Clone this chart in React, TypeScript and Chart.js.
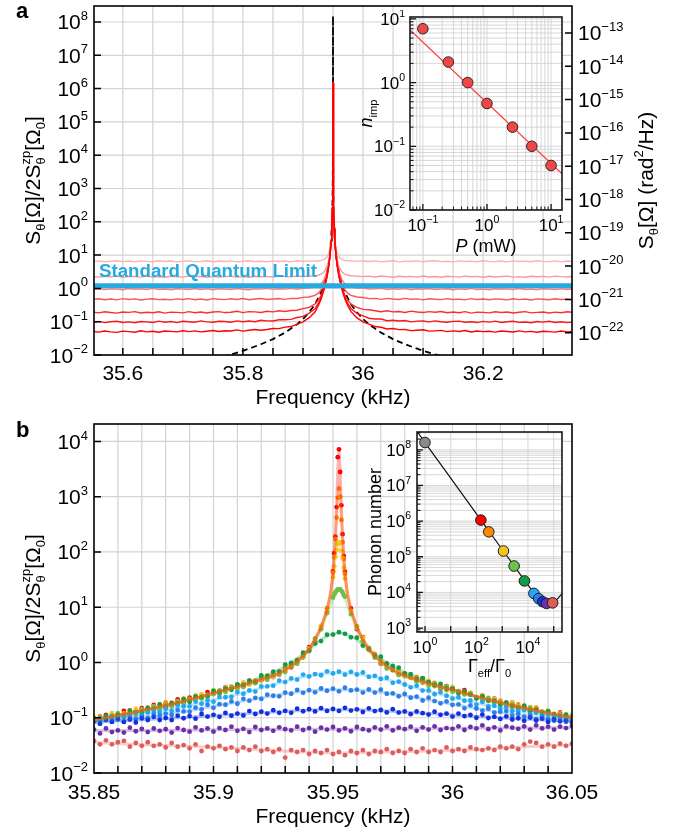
import React, { useEffect, useRef } from "react";
import { Chart, registerables } from "chart.js";

Chart.register(...registerables);

/* ===================== Panel a data ===================== */
const A_FREQ = [35.55,35.56,35.57,35.58,35.59,35.6,35.61,35.62,35.63,35.64,35.65,35.66,35.67,35.68,35.69,35.7,35.71,35.72,35.73,35.74,35.75,35.76,35.77,35.78,35.79,35.8,35.81,35.82,35.83,35.84,35.85,35.86,35.87,35.88,35.89,35.9,
  35.91,35.92,35.925,35.93,35.935,35.94,35.943,35.945,35.947,35.948,35.949,35.9495,
  35.95,
  35.9505,35.951,35.952,35.953,35.955,35.957,35.96,35.965,35.97,35.975,35.98,35.99,
  36,36.01,36.02,36.03,36.04,36.05,36.06,36.07,36.08,36.09,36.1,36.11,36.12,36.13,36.14,36.15,36.16,36.17,36.18,36.19,36.2,36.21,36.22,36.23,36.24,36.25,36.26,36.27,36.28,36.29,36.3,36.31,36.32,36.33,36.34,36.35];

const A_TRACE_1 = [6.44,6.7,6.31,6.57,6.76,6.37,6.63,6.24,6.7,6.5,6.31,6.76,6.44,6.63,6.24,6.57,6.7,6.37,6.5,6.76,6.31,6.63,6.44,6.7,6.24,6.57,6.76,6.37,6.5,6.31,6.7,6.44,6.63,6.26,6.79,6.55,
  6.58,6.65,6.74,6.92,7.35,8.7,11.3,16,33.5,68.5,266,1100,
  1.5e6,
  1100,266,68.5,33.5,16,11.3,8.7,7.35,6.92,6.74,6.65,6.58,
  6.68,6.4,6.72,6.32,6.51,6.77,6.24,6.57,6.44,6.7,6.31,6.63,6.76,6.37,6.5,6.24,6.7,6.44,6.57,6.31,6.76,6.5,6.37,6.63,6.24,6.7,6.44,6.57,6.31,6.76,6.5,6.37,6.7,6.24,6.63,6.44];
const A_TRACE_2 = [2.27,2.18,2.32,2.23,2.34,2.16,2.25,2.3,2.18,2.36,2.2,2.27,2.16,2.32,2.25,2.18,2.34,2.23,2.3,2.16,2.32,2.2,2.25,2.34,2.18,2.27,2.16,2.32,2.23,2.3,2.19,2.35,2.27,2.22,2.35,2.28,
  2.33,2.4,2.49,2.67,3.1,4.45,7.05,11.75,29,64,262,1100,
  1.5e6,
  1100,262,64,29,11.75,7.05,4.45,3.1,2.67,2.49,2.4,2.33,
  2.26,2.33,2.2,2.36,2.26,2.17,2.32,2.23,2.3,2.18,2.36,2.2,2.27,2.16,2.32,2.25,2.18,2.34,2.23,2.3,2.16,2.32,2.2,2.27,2.34,2.18,2.25,2.16,2.32,2.23,2.3,2.18,2.34,2.25,2.2,2.3];
const A_TRACE_3 = [0.931,0.979,0.922,0.969,0.95,0.912,0.988,0.941,0.969,0.922,0.998,0.931,0.96,0.912,0.979,0.95,0.922,0.988,0.931,0.969,0.912,0.979,0.95,0.922,0.988,0.941,0.912,0.969,0.95,0.998,0.933,0.974,0.949,1.0,0.945,1.0,
  1.03,1.1,1.19,1.37,1.8,3.15,5.75,10.5,28,63,261,1100,
  1.5e6,
  1100,261,63,28,10.5,5.75,3.15,1.8,1.37,1.19,1.1,1.03,
  1.02,0.955,0.974,1.006,0.926,0.971,0.941,0.987,0.91,0.975,0.941,0.988,0.922,0.95,0.979,0.912,0.969,0.931,0.998,0.922,0.95,0.912,0.979,0.941,0.969,0.922,0.988,0.931,0.95,0.903,0.979,0.95,0.922,0.969,0.931,0.96];
const A_TRACE_4 = [0.47,0.489,0.456,0.479,0.451,0.494,0.465,0.484,0.447,0.475,0.489,0.461,0.47,0.451,0.484,0.465,0.494,0.456,0.479,0.447,0.492,0.473,0.46,0.488,0.466,0.499,0.457,0.482,0.497,0.466,0.481,0.498,0.469,0.503,0.498,0.539,
  0.55,0.62,0.71,0.89,1.32,2.67,5.3,10,27.5,62.5,260,1100,
  1.5e6,
  1100,260,62.5,27.5,10,5.3,2.67,1.32,0.89,0.71,0.62,0.55,
  0.534,0.494,0.503,0.469,0.503,0.481,0.466,0.502,0.472,0.485,0.452,0.489,0.474,0.46,0.492,0.464,0.475,0.451,0.494,0.465,0.479,0.456,0.484,0.47,0.451,0.489,0.461,0.479,0.447,0.484,0.47,0.456,0.489,0.465,0.475,0.451];
const A_TRACE_5 = [0.194,0.184,0.198,0.188,0.181,0.196,0.19,0.2,0.182,0.192,0.186,0.198,0.181,0.194,0.19,0.184,0.2,0.186,0.196,0.183,0.195,0.201,0.188,0.192,0.205,0.187,0.2,0.197,0.189,0.205,0.197,0.212,0.202,0.216,0.221,0.246,
  0.27,0.34,0.43,0.61,1.04,2.4,5.0,9.7,27,62,260,1100,
  1.5e6,
  1100,260,62,27,9.7,5.0,2.4,1.04,0.61,0.43,0.34,0.27,
  0.234,0.229,0.214,0.2,0.212,0.197,0.203,0.189,0.207,0.196,0.189,0.201,0.192,0.202,0.185,0.195,0.186,0.2,0.181,0.194,0.19,0.184,0.198,0.188,0.196,0.182,0.192,0.2,0.184,0.19,0.196,0.182,0.194,0.186,0.198,0.19];
const A_TRACE_6 = [0.096,0.102,0.094,0.1,0.103,0.095,0.099,0.093,0.101,0.0985,0.0945,0.104,0.0967,0.101,0.0939,0.103,0.0992,0.0964,0.106,0.0988,0.096,0.103,0.101,0.0962,0.106,0.1,0.105,0.1,0.11,0.106,0.105,0.114,0.115,0.117,0.134,0.145,
  0.177,0.245,0.34,0.52,0.95,2.3,4.9,9.6,27,62,260,1100,
  1.5e6,
  1100,262,63,27,9.6,4.9,2.3,0.95,0.52,0.34,0.245,0.178,
  0.15,0.127,0.121,0.12,0.107,0.11,0.105,0.109,0.099,0.104,0.105,0.0986,0.106,0.0997,0.0963,0.102,0.104,0.0966,0.0994,0.0942,0.102,0.0969,0.104,0.0947,0.0996,0.103,0.0955,0.0984,0.0933,0.101,0.0972,0.103,0.0951,0.1,0.094,0.098];
const A_TRACE_7 = [0.0515,0.0485,0.0525,0.0496,0.0478,0.0522,0.0503,0.0483,0.0534,0.0495,0.0515,0.0482,0.0527,0.0513,0.0494,0.0535,0.0502,0.0529,0.0496,0.0518,0.0545,0.0508,0.0537,0.0527,0.0566,0.052,0.0555,0.058,0.0555,0.0585,0.0625,0.062,0.0685,0.0715,0.083,0.099,
  0.13,0.195,0.29,0.46,0.92,2.2,4.9,9.4,27,63,260,1100,
  1.5e6,
  1100,265,62,27,9.6,4.8,2.25,0.9,0.47,0.29,0.2,0.13,
  0.099,0.084,0.0715,0.068,0.0606,0.0625,0.058,0.0585,0.054,0.0555,0.057,0.0521,0.0532,0.0547,0.0503,0.053,0.0508,0.0541,0.049,0.0527,0.0505,0.0514,0.0488,0.0527,0.0506,0.049,0.053,0.0494,0.0513,0.0483,0.0517,0.0502,0.0486,0.0525,0.0495,0.051];

const A_DASH_FREQ = [35.75,35.78,35.8,35.83,35.85,35.87,35.89,35.9,35.91,35.92,35.93,35.935,35.94,35.943,35.945,35.947,35.948,35.949,35.9495,35.9498,35.95,35.9502,35.9505,35.951,35.952,35.953,35.955,35.957,35.96,35.965,35.97,35.98,35.99,36,36.01,36.03,36.05,36.07,36.1,36.12,36.15];
const A_DASH_VAL = [0.0075,0.0104,0.0133,0.021,0.03,0.047,0.083,0.12,0.19,0.33,0.75,1.33,3,6.1,12,33,75,300,1200,7500,1.5e8,7500,1200,300,75,33,12,6.1,3,1.33,0.75,0.33,0.19,0.12,0.083,0.047,0.03,0.021,0.0133,0.0104,0.0075];

const SQL_FREQ = [35.5, 36.4];
const SQL_LEVEL = [1.2, 1.2];

const A_X_LABELS = [35.6, 35.8, 36, 36.2];
const A_X_GRID = [35.6,35.65,35.7,35.75,35.8,35.85,35.9,35.95,36,36.05,36.1,36.15,36.2,36.25,36.3];
const A_Y_EXP = [-2,-1,0,1,2,3,4,5,6,7,8];
const A_Y2_EXP = [-22,-21,-20,-19,-18,-17,-16,-15,-14,-13];

const INSET_A_POWER = [0.1,0.25,0.5,1,2.5,5,10];
const INSET_A_NIMP = [7.0,2.1,1.0,0.47,0.2,0.1,0.05];
const INSET_A_FIT_POWER = [0.063,14.8];
const INSET_A_FIT_NIMP = [6.7,0.037];
const INSET_A_X_EXP = [-1,0,1];
const INSET_A_Y_EXP = [-2,-1,0,1];

/* ===================== Panel b data ===================== */
const B_FREQ = [35.85,35.8525,35.855,35.8575,35.86,35.8625,35.865,35.8675,35.87,35.8725,35.875,35.8775,35.88,35.8825,35.885,35.8875,35.89,35.8925,35.895,35.8975,35.9,35.9025,35.905,35.9075,35.91,35.9125,35.915,35.9175,35.92,35.9225,35.925,35.9275,35.93,35.9325,35.935,35.9375,35.94,35.9425,35.945,35.9475,35.95,35.9525,35.955,35.9575,35.96,35.9625,35.965,35.9675,35.97,35.9725,35.975,35.9775,35.98,35.9825,35.985,35.9875,35.99,35.9925,35.995,35.9975,36,36.0025,36.005,36.0075,36.01,36.0125,36.015,36.0175,36.02,36.0225,36.025,36.0275,36.03,36.0325,36.035,36.0375,36.04,36.0425,36.045,36.0475,36.05];
const B_PEAK_FREQ = [35.9505,35.951,35.9515,35.952,35.953,35.9535,35.954,35.9545];

const B_RED = [0.1,0.092,0.113,0.095,0.117,0.133,0.113,0.131,0.149,0.138,0.17,0.145,0.177,0.177,0.214,0.188,0.232,0.234,0.232,0.291,0.294,0.276,0.352,0.34,0.391,0.371,0.47,0.459,0.475,0.572,0.545,0.672,0.803,0.816,1.06,1.24,1.89,2.42,4.52,8.3,45,7200,44,9.5,4.0,2.86,1.72,1.37,0.95,0.95,0.73,0.61,0.63,0.546,0.461,0.513,0.416,0.413,0.336,0.374,0.326,0.288,0.316,0.273,0.225,0.245,0.209,0.222,0.179,0.184,0.187,0.153,0.159,0.131,0.149,0.128,0.131,0.11,0.125,0.105,0.106];
const B_RED_PEAK = [95,190,650,5200,2800,700,210,85];
const B_ORANGE = [0.087,0.107,0.101,0.113,0.102,0.121,0.137,0.124,0.126,0.153,0.153,0.15,0.189,0.161,0.194,0.218,0.204,0.252,0.225,0.26,0.297,0.282,0.358,0.333,0.336,0.417,0.424,0.428,0.539,0.514,0.603,0.595,0.788,0.85,0.96,1.42,1.68,2.73,4.1,9.6,42,1400,40,8.6,4.56,2.52,1.79,1.43,0.96,0.876,0.788,0.589,0.609,0.525,0.549,0.428,0.433,0.425,0.354,0.316,0.352,0.303,0.269,0.278,0.227,0.254,0.213,0.19,0.203,0.181,0.155,0.174,0.147,0.149,0.153,0.123,0.124,0.109,0.122,0.109,0.098];
const B_ORANGE_PEAK = [80,170,420,950,1000,380,150,75];
const B_YELLOW = [0.104,0.093,0.106,0.121,0.108,0.104,0.132,0.145,0.128,0.148,0.138,0.174,0.162,0.189,0.177,0.224,0.213,0.211,0.266,0.252,0.316,0.306,0.304,0.371,0.354,0.437,0.395,0.477,0.48,0.583,0.551,0.685,0.701,0.893,1.12,1.26,1.8,2.47,4.64,8.2,35,150,33,8.5,4.2,2.81,1.66,1.33,1.11,0.8,0.759,0.704,0.557,0.541,0.456,0.486,0.47,0.371,0.38,0.33,0.362,0.276,0.294,0.286,0.237,0.241,0.2,0.218,0.194,0.17,0.187,0.158,0.143,0.156,0.14,0.119,0.135,0.118,0.107,0.114,0.113];
const B_YELLOW_PEAK = [55,82,110,140,145,105,78,52];
const B_LGREEN = [0.092,0.103,0.091,0.108,0.121,0.107,0.122,0.114,0.143,0.138,0.162,0.144,0.168,0.167,0.2,0.18,0.219,0.246,0.223,0.26,0.267,0.314,0.291,0.363,0.354,0.359,0.435,0.42,0.527,0.483,0.591,0.62,0.673,0.891,0.95,1.31,1.6,2.67,3.98,7.8,15,21,15.5,7.5,4.4,2.39,1.84,1.22,1.02,0.776,0.779,0.608,0.586,0.565,0.456,0.446,0.379,0.408,0.354,0.37,0.295,0.303,0.264,0.275,0.237,0.207,0.228,0.188,0.191,0.16,0.175,0.156,0.139,0.152,0.127,0.129,0.132,0.107,0.111,0.099,0.108];
const B_LGREEN_PEAK = [17,18.5,20,21,21,20,18.5,16.5];
const B_GREEN = [0.096,0.088,0.109,0.101,0.113,0.104,0.134,0.126,0.125,0.15,0.141,0.175,0.154,0.183,0.181,0.216,0.193,0.238,0.239,0.242,0.305,0.291,0.333,0.321,0.403,0.392,0.466,0.451,0.583,0.566,0.68,0.681,0.918,0.98,1.09,1.5,1.65,2.2,2.44,3.18,3.2,3.54,3.3,2.85,2.81,2.02,1.75,1.32,1.27,0.95,0.867,0.807,0.627,0.614,0.493,0.518,0.44,0.384,0.411,0.335,0.336,0.279,0.297,0.26,0.225,0.244,0.204,0.204,0.17,0.19,0.164,0.149,0.165,0.135,0.139,0.117,0.13,0.115,0.104,0.114,0.097];
const B_LBLUE = [0.086,0.099,0.092,0.108,0.094,0.109,0.105,0.125,0.11,0.124,0.138,0.125,0.145,0.133,0.167,0.16,0.16,0.196,0.179,0.207,0.195,0.238,0.235,0.238,0.292,0.272,0.312,0.298,0.369,0.37,0.38,0.469,0.442,0.515,0.489,0.605,0.56,0.618,0.588,0.691,0.635,0.683,0.603,0.678,0.606,0.66,0.548,0.572,0.504,0.529,0.428,0.452,0.4,0.355,0.38,0.31,0.312,0.266,0.289,0.25,0.221,0.235,0.203,0.205,0.172,0.193,0.16,0.165,0.147,0.157,0.131,0.135,0.14,0.115,0.123,0.11,0.113,0.1,0.11,0.095,0.098];
const B_MBLUE = [0.086,0.078,0.095,0.085,0.094,0.085,0.106,0.096,0.107,0.099,0.118,0.109,0.119,0.112,0.138,0.13,0.128,0.152,0.141,0.172,0.151,0.176,0.172,0.197,0.179,0.22,0.204,0.229,0.219,0.262,0.25,0.244,0.286,0.272,0.319,0.283,0.317,0.288,0.339,0.308,0.336,0.301,0.349,0.312,0.323,0.285,0.326,0.286,0.322,0.272,0.275,0.244,0.27,0.23,0.242,0.205,0.231,0.2,0.182,0.197,0.171,0.175,0.148,0.168,0.147,0.135,0.146,0.124,0.129,0.132,0.109,0.118,0.105,0.11,0.094,0.106,0.095,0.088,0.099,0.084,0.089];
const B_BLUE = [0.087,0.078,0.093,0.084,0.097,0.084,0.093,0.082,0.098,0.091,0.104,0.091,0.099,0.091,0.109,0.098,0.107,0.096,0.117,0.105,0.113,0.104,0.122,0.109,0.119,0.11,0.132,0.117,0.129,0.119,0.137,0.123,0.133,0.123,0.146,0.131,0.143,0.13,0.149,0.133,0.144,0.133,0.151,0.135,0.142,0.127,0.148,0.132,0.138,0.125,0.143,0.124,0.13,0.116,0.13,0.121,0.114,0.129,0.113,0.119,0.105,0.119,0.107,0.112,0.1,0.114,0.099,0.104,0.095,0.106,0.093,0.098,0.088,0.101,0.089,0.096,0.084,0.094,0.086,0.09,0.082];
const B_PURPLE = [0.061,0.052,0.064,0.055,0.059,0.054,0.066,0.057,0.063,0.055,0.064,0.058,0.062,0.054,0.065,0.06,0.056,0.067,0.059,0.064,0.056,0.065,0.06,0.069,0.058,0.063,0.055,0.068,0.06,0.064,0.058,0.067,0.062,0.059,0.069,0.06,0.065,0.056,0.066,0.061,0.068,0.059,0.064,0.057,0.068,0.062,0.059,0.067,0.061,0.07,0.059,0.066,0.062,0.069,0.058,0.067,0.061,0.07,0.06,0.065,0.063,0.07,0.06,0.068,0.064,0.073,0.062,0.067,0.059,0.07,0.066,0.063,0.07,0.061,0.073,0.064,0.069,0.061,0.069,0.065,0.071];
const B_PINK = [0.038,0.033,0.039,0.033,0.036,0.038,0.03,0.035,0.031,0.036,0.031,0.033,0.029,0.035,0.03,0.032,0.028,0.033,0.025,0.03,0.028,0.031,0.027,0.029,0.025,0.029,0.026,0.03,0.025,0.027,0.024,0.027,0.019,0.026,0.024,0.026,0.022,0.025,0.023,0.026,0.022,0.024,0.021,0.025,0.023,0.026,0.022,0.025,0.024,0.027,0.023,0.025,0.023,0.027,0.024,0.028,0.024,0.026,0.024,0.029,0.025,0.027,0.025,0.029,0.027,0.026,0.028,0.026,0.03,0.028,0.03,0.027,0.033,0.037,0.035,0.03,0.033,0.03,0.034,0.031,0.034];

const B_FIT_FREQ = [35.85,35.8625,35.8725,35.8825,35.8925,35.9025,35.9125,35.9225,35.9275,35.9325,35.9375,35.94,35.9425,35.945,35.9475,35.949,35.95,35.951,35.9515,35.952,35.9525,35.953,35.9535,35.954,35.955,35.956,35.9575,35.96,35.9625,35.965,35.9675,35.9725,35.9775,35.9825,35.9925,36.0025,36.0125,36.0225,36.0325,36.0425,36.05];
const B_FIT_RED = [0.093,0.116,0.142,0.177,0.227,0.3,0.39,0.53,0.64,0.85,1.3,1.75,2.6,4.3,9,18,42,200,650,3000,7000,3000,650,200,42,18,9,4.3,2.6,1.75,1.3,0.85,0.64,0.53,0.39,0.3,0.227,0.177,0.142,0.116,0.101];
const B_FIT_ORANGE = [0.093,0.116,0.142,0.177,0.227,0.3,0.39,0.53,0.64,0.85,1.3,1.75,2.6,4.3,9,18,40,160,400,950,1350,950,400,160,40,18,9,4.3,2.6,1.75,1.3,0.85,0.64,0.53,0.39,0.3,0.227,0.177,0.142,0.116,0.101];
const B_FIT_YELLOW = [0.093,0.116,0.142,0.177,0.227,0.3,0.39,0.53,0.64,0.85,1.3,1.75,2.6,4.2,8.5,17,33,80,108,140,150,140,108,80,33,17,8.5,4.2,2.6,1.75,1.3,0.85,0.64,0.53,0.39,0.3,0.227,0.177,0.142,0.116,0.101];
const B_FIT_LGREEN = [0.09,0.113,0.138,0.172,0.22,0.291,0.378,0.514,0.62,0.825,1.26,1.7,2.52,4.1,7.6,11,15,18.5,20,21,21,21,20,18.5,15,11,7.6,4.1,2.52,1.7,1.26,0.825,0.62,0.514,0.378,0.291,0.22,0.172,0.138,0.113,0.098];
const B_FIT_GREEN = [0.091,0.114,0.139,0.174,0.222,0.3,0.4,0.59,0.74,0.98,1.4,1.7,2.1,2.6,3.0,3.2,3.3,3.37,3.39,3.4,3.4,3.4,3.39,3.37,3.3,3.2,3.0,2.6,2.1,1.7,1.4,0.98,0.74,0.59,0.4,0.3,0.222,0.174,0.139,0.114,0.099];
const B_FIT_LBLUE = [0.09,0.105,0.122,0.145,0.175,0.22,0.28,0.37,0.43,0.49,0.55,0.577,0.6,0.625,0.64,0.645,0.648,0.65,0.65,0.65,0.65,0.65,0.65,0.65,0.648,0.645,0.64,0.625,0.6,0.577,0.55,0.49,0.43,0.37,0.28,0.22,0.175,0.145,0.122,0.105,0.095];
const B_FIT_MBLUE = [0.082,0.092,0.104,0.12,0.141,0.168,0.2,0.24,0.26,0.28,0.298,0.305,0.31,0.314,0.318,0.319,0.32,0.32,0.32,0.32,0.32,0.32,0.32,0.32,0.32,0.319,0.318,0.314,0.31,0.305,0.298,0.28,0.26,0.24,0.2,0.168,0.141,0.12,0.104,0.092,0.086];
const B_FIT_BLUE = [0.084,0.089,0.093,0.098,0.104,0.111,0.118,0.125,0.128,0.132,0.135,0.136,0.138,0.139,0.139,0.14,0.14,0.14,0.14,0.14,0.14,0.14,0.14,0.14,0.14,0.14,0.139,0.139,0.138,0.136,0.135,0.132,0.128,0.125,0.118,0.111,0.104,0.098,0.093,0.089,0.086];
const B_FIT_PURPLE = [0.058,0.0585,0.059,0.0595,0.06,0.0605,0.061,0.0615,0.0615,0.0618,0.062,0.062,0.062,0.062,0.062,0.062,0.062,0.062,0.062,0.062,0.062,0.062,0.062,0.062,0.062,0.062,0.062,0.062,0.0621,0.0622,0.0623,0.0625,0.0628,0.063,0.064,0.0645,0.065,0.0652,0.0655,0.066,0.066];
const B_FIT_PINK = [0.036,0.0335,0.032,0.031,0.0302,0.029,0.0274,0.0258,0.0252,0.0246,0.024,0.0238,0.0236,0.0234,0.0232,0.0231,0.0231,0.023,0.023,0.023,0.023,0.023,0.023,0.023,0.0231,0.0232,0.0232,0.0234,0.0235,0.0236,0.0237,0.0239,0.0242,0.0246,0.0254,0.026,0.0266,0.0286,0.0302,0.0314,0.032];

const B_X_LABELS = [35.85, 35.9, 35.95, 36, 36.05];
const B_X_GRID = [35.86,35.87,35.88,35.89,35.9,35.91,35.92,35.93,35.94,35.95,35.96,35.97,35.98,35.99,36,36.01,36.02,36.03,36.04];
const B_Y_EXP = [-2,-1,0,1,2,3,4];

const INSET_B_RATIO = [1,148,300,1120,2900,7300,17000,26000,37000,53000,91000];
const INSET_B_PHONON = [1.6e8,1.07e6,5.0e5,1.45e5,5.5e4,2.1e4,9.4e3,6.7e3,5.5e3,4.9e3,5.1e3];
const INSET_B_THEORY_RATIO = [0.49,1,10,100,1000,3000,7000,12000,17000,25000,37000,50000,65000,90000,130000,210000];
const INSET_B_THEORY_PHONON = [3.3e8,1.6e8,1.6e7,1.6e6,1.6e5,5.35e4,2.3e4,1.37e4,9.9e3,7.2e3,5.7e3,5.1e3,4.95e3,5.15e3,6.2e3,9.2e3];
const INSET_B_X_EXP = [0,1,2,3,4,5];
const INSET_B_X_LABEL_EXP = [0,2,4];
const INSET_B_Y_EXP = [3,4,5,6,7,8];

/* ===================== styles ===================== */
const FONT = '"Liberation Sans", Arial, Helvetica, sans-serif';
const GRID = "#d3d3d3";
const SQL_COLOR = "#27aae1";
const A_TRACE_COLORS = ["#ffb0b0", "#ff9696", "#ff7a7a", "#ff5252", "#ff2e2e", "#ff1515", "#ff0000"];
const B_COLORS = ["#ff0000", "#ff8a00", "#f5c420", "#6cc24a", "#109c48", "#22a8f2", "#2b80e8", "#1030e0", "#6c2fa8", "#e05c5c"];
const INSET_B_COLORS = ["#8a8a8a", ...B_COLORS];
const MINUS = "\u2212";

type Seg = { t: string; it?: boolean; sub?: string; sup?: string };

const fnt = (size: number, it = false, bold = false) =>
  `${it ? "italic " : ""}${bold ? "bold " : ""}${size}px ${FONT}`;

function drawRich(ctx: CanvasRenderingContext2D, segs: Seg[], x: number, y: number, size: number, align: "left" | "center" | "right") {
  const ss = size * 0.62;
  const up = size * 0.45;
  const dn = size * 0.25;
  const widths = segs.map((s) => {
    ctx.font = fnt(size, !!s.it);
    const wt = ctx.measureText(s.t).width;
    ctx.font = fnt(ss);
    const wa = Math.max(s.sub ? ctx.measureText(s.sub).width : 0, s.sup ? ctx.measureText(s.sup).width : 0);
    return [wt, wa];
  });
  const total = widths.reduce((acc, w) => acc + w[0] + w[1], 0);
  let cx = align === "center" ? x - total / 2 : align === "right" ? x - total : x;
  ctx.textAlign = "left";
  ctx.textBaseline = "alphabetic";
  segs.forEach((s, i) => {
    ctx.font = fnt(size, !!s.it);
    ctx.fillText(s.t, cx, y);
    cx += widths[i][0];
    ctx.font = fnt(ss);
    if (s.sub) ctx.fillText(s.sub, cx, y + dn);
    if (s.sup) ctx.fillText(s.sup, cx, y - up);
    cx += widths[i][1];
  });
}

function drawRotated(ctx: CanvasRenderingContext2D, segs: Seg[], cx: number, cy: number, size: number) {
  ctx.save();
  ctx.translate(cx, cy);
  ctx.rotate(-Math.PI / 2);
  drawRich(ctx, segs, 0, size * 0.36, size, "center");
  ctx.restore();
}

const pow10 = (e: number): Seg[] => [{ t: "10", sup: e < 0 ? MINUS + String(-e) : String(e) }];

function strokeSegs(ctx: CanvasRenderingContext2D, segs: number[][], color: string, width: number) {
  ctx.save();
  ctx.strokeStyle = color;
  ctx.lineWidth = width;
  ctx.beginPath();
  for (const [x1, y1, x2, y2] of segs) {
    ctx.moveTo(x1, y1);
    ctx.lineTo(x2, y2);
  }
  ctx.stroke();
  ctx.restore();
}

function logValues(minExp: number, maxExp: number, mant: number[]) {
  const out: number[] = [];
  for (let e = minExp; e <= maxExp; e++) for (const m of mant) out.push(m * Math.pow(10, e));
  return out;
}

function rgba(hex: string, a: number) {
  const n = parseInt(hex.slice(1), 16);
  return `rgba(${(n >> 16) & 255},${(n >> 8) & 255},${n & 255},${a})`;
}

const xy = (xs: number[], ys: number[]) => xs.map((x, i) => ({ x, y: ys[i] }));

const lineDs = (data: any[], color: string, width: number, order: number, extra: any = {}) => ({
  data, showLine: true, borderColor: color, borderWidth: width, pointRadius: 0, pointHoverRadius: 0,
  fill: false, tension: 0, order, ...extra,
});
const dotDs = (data: any[], color: any, r: number, order: number, extra: any = {}) => ({
  data, showLine: false, pointRadius: r, pointHoverRadius: r, pointBackgroundColor: color,
  pointBorderColor: color, pointBorderWidth: 0, order, clip: 0, ...extra,
});

const hidden = (type: string, position: string, min: number, max: number, size: number, horizontal: boolean) => ({
  type, position, min, max, bounds: "data",
  ticks: { display: false }, grid: { display: false, drawTicks: false }, border: { display: false },
  afterFit: (s: any) => { if (horizontal) s.height = size; else s.width = size; },
});

const baseOpts = (padding: any, scales: any) => ({
  responsive: false, animation: false, devicePixelRatio: 1, events: [],
  layout: { padding, autoPadding: false },
  plugins: { legend: { display: false }, tooltip: { enabled: false } },
  scales,
});

const Y_TITLE: Seg[] = [{ t: "S", sub: "θ" }, { t: "[Ω]/2S", sub: "θ", sup: "zp" }, { t: "[Ω", sub: "0" }, { t: "]" }];
const Y2_TITLE: Seg[] = [{ t: "S", sub: "θ" }, { t: "[Ω] (rad", sup: "2" }, { t: "/Hz)" }];

/* ===================== panel a ===================== */
const A_YMIN = 0.01, A_YMAX = 3.02e8, RIGHT_SHIFT = Math.pow(10, -20.67);

const panelAPlugin = {
  id: "panelA",
  beforeDatasetsDraw(chart: any) {
    const { ctx, chartArea: a, scales } = chart;
    const L: number[][] = [];
    for (const v of A_X_GRID) { const px = scales.x.getPixelForValue(v); L.push([px, a.top, px, a.bottom]); }
    for (const e of A_Y_EXP) { const py = scales.y.getPixelForValue(Math.pow(10, e)); L.push([a.left, py, a.right, py]); }
    strokeSegs(ctx, L, GRID, 1.2);
  },
  afterDatasetsDraw(chart: any) {
    const { ctx, chartArea: a, scales } = chart;
    const { x, y, y2 } = scales;
    ctx.save();
    ctx.fillStyle = SQL_COLOR;
    ctx.font = fnt(18.7, false, true);
    ctx.textAlign = "left";
    ctx.textBaseline = "alphabetic";
    ctx.fillText("Standard Quantum Limit", a.left + 5, y.getPixelForValue(SQL_LEVEL[0]) - 9);
    ctx.restore();

    const T: number[][] = [];
    for (const e of A_Y_EXP) { const py = y.getPixelForValue(Math.pow(10, e)); T.push([a.left, py, a.left + 7, py]); }
    for (const e of A_Y2_EXP) { const py = y2.getPixelForValue(Math.pow(10, e)); T.push([a.right, py, a.right - 7, py]); }
    for (const v of A_X_GRID) { const px = x.getPixelForValue(v); T.push([px, a.bottom, px, a.bottom - 7]); }
    strokeSegs(ctx, T, "#000", 1.5);
    ctx.save();
    ctx.strokeStyle = "#000";
    ctx.lineWidth = 1.6;
    ctx.strokeRect(a.left, a.top, a.right - a.left, a.bottom - a.top);
    ctx.restore();

    ctx.save();
    ctx.fillStyle = "#000";
    for (const e of A_Y_EXP) drawRich(ctx, pow10(e), a.left - 6, y.getPixelForValue(Math.pow(10, e)) + 7.5, 21, "right");
    for (const e of A_Y2_EXP) drawRich(ctx, pow10(e), a.right + 6, y2.getPixelForValue(Math.pow(10, e)) + 7.5, 21, "left");
    for (const v of A_X_LABELS) drawRich(ctx, [{ t: String(v) }], x.getPixelForValue(v), a.bottom + 25, 21, "center");
    drawRich(ctx, [{ t: "Frequency (kHz)" }], (a.left + a.right) / 2, a.bottom + 49, 21, "center");
    drawRotated(ctx, Y_TITLE, 32, (a.top + a.bottom) / 2, 21);
    drawRotated(ctx, Y2_TITLE, 645, (a.top + a.bottom) / 2, 21);
    ctx.font = fnt(22, false, true);
    ctx.textAlign = "left";
    ctx.fillText("a", 16, 18);
    ctx.restore();
  },
};

function configA(): any {
  const traces = [A_TRACE_1, A_TRACE_2, A_TRACE_3, A_TRACE_4, A_TRACE_5, A_TRACE_6, A_TRACE_7];
  return {
    type: "scatter",
    data: {
      datasets: [
        lineDs(xy(SQL_FREQ, SQL_LEVEL), SQL_COLOR, 5, 0),
        ...traces.map((t, i) => lineDs(xy(A_FREQ, t), A_TRACE_COLORS[i], 1.4, 7 - i)),
        lineDs(xy(A_DASH_FREQ, A_DASH_VAL), "#000", 1.8, 8, { borderDash: [6, 4] }),
      ],
    },
    options: baseOpts({ top: 6, left: 0, right: 0, bottom: 0 }, {
      x: hidden("linear", "bottom", 35.552, 36.348, 60, true),
      y: hidden("logarithmic", "left", A_YMIN, A_YMAX, 94, false),
      y2: hidden("logarithmic", "right", A_YMIN * RIGHT_SHIFT, A_YMAX * RIGHT_SHIFT, 114, false),
    }),
    plugins: [panelAPlugin],
  };
}

/* ===================== panel b ===================== */
const panelBPlugin = {
  id: "panelB",
  beforeDatasetsDraw(chart: any) {
    const { ctx, chartArea: a, scales } = chart;
    const L: number[][] = [];
    for (const v of B_X_GRID) { const px = scales.x.getPixelForValue(v); L.push([px, a.top, px, a.bottom]); }
    for (const e of B_Y_EXP) { const py = scales.y.getPixelForValue(Math.pow(10, e)); L.push([a.left, py, a.right, py]); }
    strokeSegs(ctx, L, GRID, 1.2);
  },
  afterDatasetsDraw(chart: any) {
    const { ctx, chartArea: a, scales } = chart;
    const { x, y } = scales;
    const T: number[][] = [];
    for (const e of B_Y_EXP) { const py = y.getPixelForValue(Math.pow(10, e)); T.push([a.left, py, a.left + 7, py]); }
    for (const v of B_X_GRID) { const px = x.getPixelForValue(v); T.push([px, a.bottom, px, a.bottom - 7]); }
    strokeSegs(ctx, T, "#000", 1.5);
    ctx.save();
    ctx.strokeStyle = "#000";
    ctx.lineWidth = 1.6;
    ctx.strokeRect(a.left, a.top, a.right - a.left, a.bottom - a.top);
    ctx.restore();
    ctx.save();
    ctx.fillStyle = "#000";
    for (const e of B_Y_EXP) drawRich(ctx, pow10(e), a.left - 6, y.getPixelForValue(Math.pow(10, e)) + 7.5, 21, "right");
    for (const v of B_X_LABELS) drawRich(ctx, [{ t: String(v) }], x.getPixelForValue(v), a.bottom + 25.5, 21, "center");
    drawRich(ctx, [{ t: "Frequency (kHz)" }], (a.left + a.right) / 2, a.bottom + 49.5, 21, "center");
    drawRotated(ctx, Y_TITLE, 32, (a.top + a.bottom) / 2, 21);
    ctx.font = fnt(22, false, true);
    ctx.textAlign = "left";
    ctx.fillText("b", 16, 22);
    ctx.restore();
  },
};

function configB(): any {
  const dots = [B_RED, B_ORANGE, B_YELLOW, B_LGREEN, B_GREEN, B_LBLUE, B_MBLUE, B_BLUE, B_PURPLE, B_PINK];
  const peaks: (number[] | null)[] = [B_RED_PEAK, B_ORANGE_PEAK, B_YELLOW_PEAK, B_LGREEN_PEAK, null, null, null, null, null, null];
  const fits = [B_FIT_RED, B_FIT_ORANGE, B_FIT_YELLOW, B_FIT_LGREEN, B_FIT_GREEN, B_FIT_LBLUE, B_FIT_MBLUE, B_FIT_BLUE, B_FIT_PURPLE, B_FIT_PINK];
  const datasets: any[] = [];
  fits.forEach((f, i) => datasets.push(lineDs(xy(B_FIT_FREQ, f), rgba(B_COLORS[i], 0.3), 3, i)));
  dots.forEach((d, i) => {
    let data = xy(B_FREQ, d);
    const p = peaks[i];
    if (p) data = data.concat(xy(B_PEAK_FREQ, p));
    datasets.push(dotDs(data, B_COLORS[i], 2.4, 19 - i));
  });
  return {
    type: "scatter",
    data: { datasets },
    options: baseOpts({ top: 9, left: 0, right: 114, bottom: 0 }, {
      x: hidden("linear", "bottom", 35.85, 36.05, 61, true),
      y: hidden("logarithmic", "left", 0.01, 2.07e4, 94, false),
    }),
    plugins: [panelBPlugin],
  };
}

/* ===================== insets ===================== */
function insetPlugin(o: {
  id: string; xGrid: number[]; yGrid: number[];
  xMajor: number[]; xMinor: number[]; yMajor: number[]; yMinor: number[];
  xLabelExp: number[]; yLabelExp: number[]; xTitle: Seg[]; yTitle: Seg[];
  yLabelGap: number; yTitleOffset: number; xTitleOffset: number;
}) {
  const inRange = (s: any, v: number) => v >= s.min * 0.9999 && v <= s.max * 1.0001;
  return {
    id: o.id,
    beforeDatasetsDraw(chart: any) {
      const { ctx, chartArea: a, scales } = chart;
      const { x, y } = scales;
      ctx.save();
      ctx.fillStyle = "#fff";
      ctx.fillRect(a.left, a.top, a.right - a.left, a.bottom - a.top);
      ctx.restore();
      const L: number[][] = [];
      for (const v of o.xGrid) if (inRange(x, v)) { const px = x.getPixelForValue(v); L.push([px, a.top, px, a.bottom]); }
      for (const v of o.yGrid) if (inRange(y, v)) { const py = y.getPixelForValue(v); L.push([a.left, py, a.right, py]); }
      strokeSegs(ctx, L, "#d2d2d2", 0.9);
    },
    afterDatasetsDraw(chart: any) {
      const { ctx, chartArea: a, scales } = chart;
      const { x, y } = scales;
      const T: number[][] = [];
      const t: number[][] = [];
      for (const v of o.xMajor) if (inRange(x, v)) { const px = x.getPixelForValue(v); T.push([px, a.bottom, px, a.bottom - 6]); }
      for (const v of o.xMinor) if (inRange(x, v)) { const px = x.getPixelForValue(v); t.push([px, a.bottom, px, a.bottom - 3.5]); }
      for (const v of o.yMajor) if (inRange(y, v)) { const py = y.getPixelForValue(v); T.push([a.left, py, a.left + 6, py]); }
      for (const v of o.yMinor) if (inRange(y, v)) { const py = y.getPixelForValue(v); t.push([a.left, py, a.left + 3.5, py]); }
      strokeSegs(ctx, T, "#111", 1.3);
      strokeSegs(ctx, t, "#111", 1);
      ctx.save();
      ctx.strokeStyle = "#1a1a1a";
      ctx.lineWidth = 1.6;
      ctx.strokeRect(a.left, a.top, a.right - a.left, a.bottom - a.top);
      ctx.restore();
      ctx.save();
      ctx.fillStyle = "#000";
      for (const e of o.yLabelExp) drawRich(ctx, pow10(e), a.left + o.yLabelGap, y.getPixelForValue(Math.pow(10, e)) + 6, 17, "right");
      for (const e of o.xLabelExp) drawRich(ctx, pow10(e), x.getPixelForValue(Math.pow(10, e)), a.bottom + 21, 17, "center");
      drawRich(ctx, o.xTitle, (a.left + a.right) / 2, a.bottom + o.xTitleOffset, 18, "center");
      drawRotated(ctx, o.yTitle, a.left + o.yTitleOffset, (a.top + a.bottom) / 2, 18);
      ctx.restore();
    },
  };
}

const M19 = [1, 2, 3, 4, 5, 6, 7, 8, 9];
const M29 = [2, 3, 4, 5, 6, 7, 8, 9];

function configIA(): any {
  return {
    type: "scatter",
    data: {
      datasets: [
        dotDs(xy(INSET_A_POWER, INSET_A_NIMP), "#f04646", 5.3, 0, { pointBorderWidth: 1, pointBorderColor: "#2a2a2a", clip: false }),
        lineDs(xy(INSET_A_FIT_POWER, INSET_A_FIT_NIMP), "#ff3a3a", 1.3, 1),
      ],
    },
    options: baseOpts({ top: 7, left: 0, right: 8, bottom: 0 }, {
      x: hidden("logarithmic", "bottom", 0.063, 14.8, 50, true),
      y: hidden("logarithmic", "left", 0.01, 10.7, 70, false),
    }),
    plugins: [insetPlugin({
      id: "insetA",
      xGrid: logValues(-2, 1, M19), yGrid: logValues(-2, 1, M19),
      xMajor: INSET_A_X_EXP.map((e) => Math.pow(10, e)), xMinor: logValues(-2, 1, M29),
      yMajor: INSET_A_Y_EXP.map((e) => Math.pow(10, e)), yMinor: logValues(-2, 1, M29),
      xLabelExp: INSET_A_X_EXP, yLabelExp: INSET_A_Y_EXP,
      xTitle: [{ t: "P", it: true }, { t: " (mW)" }],
      yTitle: [{ t: "n", it: true, sub: "imp" }],
      yLabelGap: -5, yTitleOffset: -44, xTitleOffset: 42,
    })],
  };
}

function configIB(): any {
  return {
    type: "scatter",
    data: {
      datasets: [
        dotDs(xy(INSET_B_RATIO, INSET_B_PHONON), INSET_B_COLORS, 5.3, 0, { pointBorderWidth: 1, pointBorderColor: "#1e1e1e", clip: false }),
        lineDs(xy(INSET_B_THEORY_RATIO, INSET_B_THEORY_PHONON), "#111", 1.2, 1),
      ],
    },
    options: baseOpts({ top: 7, left: 0, right: 8, bottom: 0 }, {
      x: hidden("logarithmic", "bottom", 0.49, 2.1e5, 48, true),
      y: hidden("logarithmic", "left", 776, 3.16e8, 77, false),
    }),
    plugins: [insetPlugin({
      id: "insetB",
      xGrid: INSET_B_X_EXP.map((e) => Math.pow(10, e)), yGrid: logValues(2, 8, M19),
      xMajor: INSET_B_X_EXP.map((e) => Math.pow(10, e)), xMinor: [],
      yMajor: INSET_B_Y_EXP.map((e) => Math.pow(10, e)), yMinor: logValues(2, 8, M29),
      xLabelExp: INSET_B_X_LABEL_EXP, yLabelExp: INSET_B_Y_EXP,
      xTitle: [{ t: "Γ", sub: "eff" }, { t: "/Γ", sub: "0" }],
      yTitle: [{ t: "Phonon number" }],
      yLabelGap: -6, yTitleOffset: -42, xTitleOffset: 40,
    })],
  };
}

export default function App() {
  const aRef = useRef<HTMLCanvasElement>(null);
  const bRef = useRef<HTMLCanvasElement>(null);
  const iaRef = useRef<HTMLCanvasElement>(null);
  const ibRef = useRef<HTMLCanvasElement>(null);

  useEffect(() => {
    const charts = [
      new Chart(aRef.current as HTMLCanvasElement, configA()),
      new Chart(bRef.current as HTMLCanvasElement, configB()),
      new Chart(iaRef.current as HTMLCanvasElement, configIA()),
      new Chart(ibRef.current as HTMLCanvasElement, configIB()),
    ];
    return () => charts.forEach((c) => c.destroy());
  }, []);

  const abs = (left: number, top: number, width: number, height: number): React.CSSProperties => ({
    position: "absolute", left, top, width, height,
  });

  return (
    <div style={{ position: "absolute", left: 0, top: 0, width: 686, height: 834, background: "#fff", overflow: "hidden" }}>
      <canvas ref={aRef} width={686} height={415} style={abs(0, 0, 686, 415)} />
      <canvas ref={bRef} width={686} height={419} style={abs(0, 415, 686, 419)} />
      <canvas ref={iaRef} width={230} height={250} style={abs(340, 10, 230, 250)} />
      <canvas ref={ibRef} width={230} height={255} style={abs(340, 425, 230, 255)} />
    </div>
  );
}
